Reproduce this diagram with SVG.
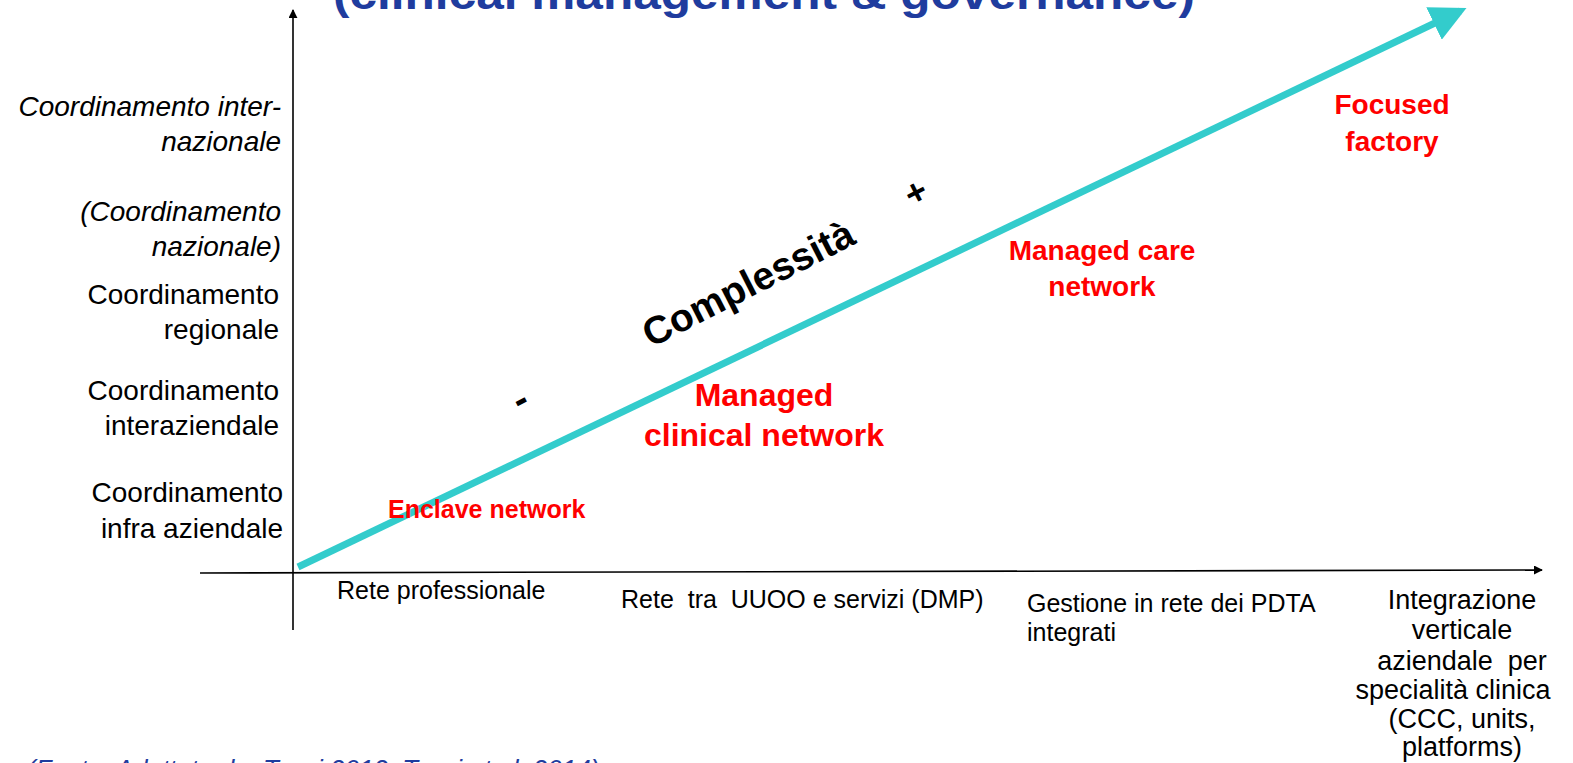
<svg xmlns="http://www.w3.org/2000/svg" width="1573" height="763" viewBox="0 0 1573 763">
  <style>
    .lab { font-family: "Liberation Sans", Arial, sans-serif; fill: #000; }
    .it { font-style: italic; }
    .ylab { font-size: 28px; text-anchor: end; }
    .xlab { font-size: 25px; }
    .red { font-family: "Liberation Sans", Arial, sans-serif; font-weight: bold; fill: #ff0000; }
    .axis { stroke: #000; stroke-width: 1.6; fill: none; }
    .blue { font-family: "Liberation Sans", Arial, sans-serif; fill: #1f3c9e; }
  </style>
  <defs>
    <marker id="axhead" viewBox="0 0 10 10" refX="9" refY="5" markerWidth="9" markerHeight="9" markerUnits="userSpaceOnUse" orient="auto">
      <path d="M0,0 L10,5 L0,10 z" fill="#000"/>
    </marker>
    <marker id="tealhead" viewBox="0 0 10 10" refX="8" refY="5" markerWidth="36" markerHeight="36" markerUnits="userSpaceOnUse" orient="auto">
      <path d="M0,0 L10,5 L0,10 z" fill="#33cccc"/>
    </marker>
  </defs>
  <rect width="1573" height="763" fill="#fff"/>

  <!-- title, partly above the page edge -->
  <text class="blue" x="333" y="9" font-size="44" font-weight="bold" textLength="862" lengthAdjust="spacingAndGlyphs">(clinical management &amp; governance)</text>

  <!-- axes and the complexity arrow -->
  <g id="connectors">
    <line class="axis" x1="293" y1="630" x2="293" y2="10" marker-end="url(#axhead)"/>
    <line class="axis" x1="200" y1="573" x2="1542" y2="570" marker-end="url(#axhead)"/>
    <line x1="298" y1="567" x2="1460" y2="11" stroke="#33cccc" stroke-width="7" marker-end="url(#tealhead)"/>
  </g>

  <!-- vertical axis levels -->
  <g id="y-labels" class="lab ylab">
    <text class="it" x="281" y="116">Coordinamento inter-</text>
    <text class="it" x="281" y="151">nazionale</text>
    <text class="it" x="281" y="221">(Coordinamento</text>
    <text class="it" x="281" y="256">nazionale)</text>
    <text x="279" y="304">Coordinamento</text>
    <text x="279" y="339">regionale</text>
    <text x="279" y="400">Coordinamento</text>
    <text x="279" y="435">interaziendale</text>
    <text x="283" y="502">Coordinamento</text>
    <text x="283" y="538">infra aziendale</text>
  </g>

  <!-- horizontal axis stages -->
  <g id="x-labels" class="lab xlab">
    <text x="337" y="599">Rete professionale</text>
    <text x="621" y="608" xml:space="preserve">Rete  tra  UUOO e servizi (DMP)</text>
    <text x="1027" y="612">Gestione in rete dei PDTA</text>
    <text x="1027" y="641">integrati</text>
    <g text-anchor="middle" font-size="27">
      <text x="1462" y="609">Integrazione</text>
      <text x="1462" y="639">verticale</text>
      <text x="1462" y="670" xml:space="preserve">aziendale  per</text>
      <text x="1453" y="699">specialità clinica</text>
      <text x="1462" y="728">(CCC, units,</text>
      <text x="1462" y="756">platforms)</text>
    </g>
  </g>

  <!-- network types along the arrow -->
  <g id="enclave"><text class="red" x="388" y="518" font-size="25">Enclave network</text></g>
  <g id="managed-clinical" text-anchor="middle">
    <text class="red" x="764" y="406" font-size="32">Managed</text>
    <text class="red" x="764" y="446" font-size="32">clinical network</text>
  </g>
  <g id="managed-care" text-anchor="middle">
    <text class="red" x="1102" y="260" font-size="28">Managed care</text>
    <text class="red" x="1102" y="296" font-size="28">network</text>
  </g>
  <g id="focused" text-anchor="middle">
    <text class="red" x="1392" y="114" font-size="28">Focused</text>
    <text class="red" x="1392" y="151" font-size="28">factory</text>
  </g>

  <!-- complexity label -->
  <g id="complexity" class="lab" font-weight="bold">
    <text x="0" y="0" font-size="39" transform="translate(651,348) rotate(-27)">Complessità</text>
    <text x="0" y="0" font-size="40" transform="translate(520,414) rotate(-27)">-</text>
    <text x="0" y="0" font-size="36" transform="translate(912,208) rotate(-27)">+</text>
  </g>

  <!-- source note, cut by the lower edge -->
  <text class="blue it" x="27" y="778" font-size="26">(Fonte: Adattato da: Tozzi 2012; Tozzi et al. 2014)</text>
</svg>
